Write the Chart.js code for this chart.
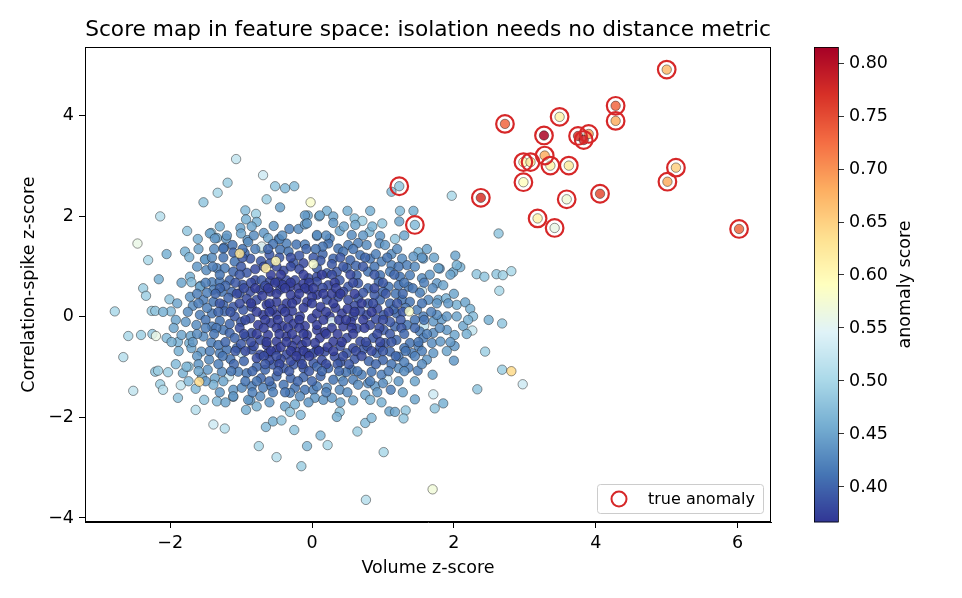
<!DOCTYPE html>
<html>
<head>
<meta charset="utf-8">
<script src="https://cdn.jsdelivr.net/npm/chart.js@4.4.1/dist/chart.umd.min.js"></script>
<style>
  html, body { margin: 0; padding: 0; background: #fff; }
</style>
</head>
<body>
<canvas id="scoreMap" width="962" height="598"></canvas>
<script>
// x, y, anomaly score for the bulk of (normal) points
const normalPoints = [
  [-1.07,3.14,.52],[-0.69,2.82,.53],[-1.19,2.67,.49],[-1.33,2.47,.50],[-1.53,2.28,.48],[-0.52,2.60,.48],[-0.38,2.56,.47],[-0.25,2.60,.47],
  [-0.64,2.34,.49],[-0.02,2.28,.58],[-0.45,2.18,.45],[-2.14,2.00,.51],[-0.94,2.12,.47],[-0.79,2.05,.49],[-2.46,1.46,.56],[-1.76,1.71,.48],
  [-1.61,1.55,.46],[-2.31,1.13,.50],[-2.05,1.25,.46],[-2.16,0.75,.46],[-2.38,0.57,.49],[-2.34,0.42,.49],[-2.78,0.11,.50],[-2.26,0.12,.49],
  [-2.21,0.12,.48],[-2.01,0.35,.48],[-1.99,0.11,.47],[-1.79,1.30,.46],[-1.73,1.19,.46],[-1.72,0.80,.46],[-1.70,0.69,.47],[-1.57,0.62,.45],
  [-1.50,1.15,.46],[-1.42,1.67,.47],[-1.34,1.57,.45],[-1.24,1.38,.42],[-1.01,1.77,.45],[-0.93,1.94,.46],[-1.00,1.66,.45],[-0.91,1.53,.44],
  [-0.68,1.67,.44],[-0.62,1.57,.45],[-0.71,1.36,.47],[-0.54,1.81,.44],[-0.32,1.75,.42],[-0.19,1.75,.43],[-0.10,1.84,.44],[-0.06,2.02,.45],
  [-0.10,2.02,.44],[0.10,2.00,.45],[-0.47,1.55,.43],[-0.36,1.46,.42],
  [1.12,2.49,.47],[1.97,2.41,.50],[2.63,1.66,.48],[0.50,2.11,.46],[0.82,2.11,.46],[1.24,2.11,.47],[1.43,2.11,.46],[0.60,1.96,.47],
  [0.71,1.91,.49],[0.99,1.86,.48],[1.23,1.90,.45],[0.81,1.69,.47],[1.17,1.55,.48],[0.39,1.71,.45],[0.21,2.11,.46],[0.30,2.00,.45],
  [2.02,1.22,.45],[2.09,0.99,.46],[1.99,0.89,.45],[2.32,0.85,.48],[2.43,0.80,.48],[2.60,0.85,.48],[2.69,0.83,.49],[2.81,0.91,.50],
  [2.64,0.52,.50],[1.50,1.29,.46],[1.57,1.16,.44],[1.80,0.96,.43],[1.55,0.52,.53],[2.04,0.24,.46],[2.16,0.29,.45],[2.23,0.16,.46],
  [2.49,-0.06,.46],[2.68,-0.13,.48],[2.26,-0.27,.52],[2.13,-0.18,.45],[2.27,0.01,.47],[2.01,-0.36,.45],[2.01,-0.58,.44],[2.00,-0.87,.44],
  [2.44,-0.69,.49],[2.68,-1.05,.49],[2.97,-1.34,.53],[2.33,-1.44,.48],[1.85,-1.72,.46],[1.73,-1.82,.48],[1.71,-1.54,.53],
  [1.45,-1.64,.45],[1.70,-1.15,.45],[1.32,-1.86,.48],[1.29,-2.02,.48],[1.09,-1.88,.45],[1.17,-1.89,.45],[1.01,-2.69,.50],[1.70,-3.43,.57],
  [0.76,-3.64,.51],[0.64,-2.28,.49],[0.75,-2.11,.47],[0.84,-2.01,.47],[0.39,-1.89,.48],[0.35,-1.99,.46],[0.12,-2.36,.47],[-0.07,-2.57,.47],
  [0.22,-2.55,.50],[-0.15,-2.97,.49],[0.58,-1.66,.45],[1.06,-1.24,.54],[1.11,-1.45,.42],[0.40,-1.18,.52],[1.58,-0.18,.52],[1.71,-0.09,.44],
  [1.83,-0.05,.44],[1.36,-1.01,.42],[1.49,-1.07,.42],
  [-2.59,-0.38,.50],[-2.41,-0.36,.49],[-2.05,-0.42,.47],[-1.89,-0.50,.46],[-1.73,-0.52,.46],[-2.66,-0.80,.51],
  [-2.21,-1.09,.48],[-2.17,-1.07,.49],[-2.03,-1.10,.49],[-1.82,-1.12,.46],[-1.74,-0.99,.48],[-2.52,-1.47,.52],[-2.14,-1.34,.49],[-2.10,-1.45,.51],
  [-1.85,-1.36,.52],[-1.89,-1.61,.48],[-1.64,-1.43,.47],[-1.52,-1.65,.48],[-1.64,-1.85,.51],[-1.39,-2.14,.53],[-1.23,-2.22,.51],
  [-1.34,-1.68,.47],[-1.47,-1.05,.44],[-1.17,-1.18,.53],[-1.11,-1.59,.44],[-0.93,-1.85,.46],[-0.87,-1.66,.44],[-0.78,-1.78,.46],[-0.65,-2.19,.47],
  [-0.55,-2.08,.46],[-0.43,-2.06,.48],[-0.75,-2.57,.50],[-0.50,-2.79,.51],[-0.25,-2.25,.48],[-0.38,-1.78,.45],[-0.31,-1.89,.48],[-0.16,-1.95,.47],
  [-0.24,-1.74,.46],
  [0.11,2.02,.45],[-0.78,1.89,.46],[-0.07,1.86,.44],[-1.44,1.66,.45],[-1.37,1.56,.44],[-1.21,1.56,.44],[-0.90,1.49,.43],[-0.46,1.54,.42],
  [-0.22,1.44,.41],[-0.10,1.44,.42],[0.07,1.61,.43],[-1.25,1.36,.41],[-1.12,1.43,.41],[-1.11,1.28,.40],[-1.09,1.10,.41],[-0.71,1.40,.55],
  [-0.45,1.34,.41],[-0.33,1.30,.41],[-0.87,1.16,.39],[-0.72,1.11,.39],[-0.59,1.07,.39],[-0.26,1.07,.39],[-0.12,1.07,.38],[-1.51,1.14,.44],
  [-1.41,1.18,.43],[-1.49,0.93,.43],[-1.34,0.97,.42],[-1.23,0.97,.42],[-1.11,0.90,.40],[-1.58,0.60,.45],[-1.41,0.69,.42],[-1.30,0.70,.41],
  [-1.16,0.73,.40],[-0.92,0.88,.39],[-0.80,0.73,.38],[-0.71,0.73,.39],[-0.59,0.71,.38],[-0.48,0.70,.38],[-0.36,0.73,.38],[-0.24,0.73,.38],
  [-0.05,0.77,.38],[0.07,0.80,.38],[-1.39,0.54,.42],[-1.27,0.50,.41],[-1.13,0.50,.40],[-1.02,0.47,.39],[-0.87,0.50,.38],[-0.73,0.54,.38],
  [-0.59,0.50,.37],[-0.45,0.54,.38],[-0.31,0.60,.37],[-0.19,0.57,.37],[-0.05,0.54,.37],[0.07,0.44,.37],[-1.72,0.40,.44],[-1.53,0.34,.42],
  [-1.39,0.30,.41],[-1.25,0.24,.40],[-1.11,0.20,.39],[-0.97,0.14,.39],[-0.78,0.34,.38],[-0.64,0.24,.37],[-0.50,0.30,.37],[-0.36,0.27,.37],
  [-0.22,0.34,.37],[-0.07,0.30,.37],
  [0.30,1.87,.44],[0.61,1.83,.45],[0.96,1.61,.44],[0.07,1.63,.43],[0.25,1.56,.42],[0.56,1.63,.43],[0.23,1.46,.41],[0.37,1.36,.41],
  [0.51,1.43,.42],[0.65,1.47,.42],[0.77,1.43,.43],[0.95,1.46,.43],[1.03,1.43,.44],[0.30,1.16,.40],[0.44,1.30,.41],[0.54,1.13,.40],
  [0.68,1.23,.41],[0.82,1.16,.41],[0.98,1.10,.42],[1.12,1.03,.42],[1.27,1.16,.43],[1.34,1.03,.42],[1.43,1.20,.44],[1.78,0.97,.45],
  [2.04,1.03,.46],[0.07,0.97,.39],[0.21,0.87,.39],[0.35,0.90,.39],[0.49,0.97,.40],[0.63,0.83,.40],[0.79,0.90,.41],[0.96,0.83,.41],
  [1.10,0.90,.42],[1.24,0.80,.41],[1.38,0.83,.42],[1.55,0.77,.43],[1.76,0.67,.44],[1.85,0.63,.45],[1.78,0.34,.45],[1.89,0.37,.46],
  [0.07,0.70,.38],[0.23,0.63,.38],[0.39,0.73,.39],[0.51,0.60,.39],[0.65,0.67,.39],[0.79,0.57,.40],[0.94,0.70,.40],[1.08,0.60,.41],
  [1.22,0.63,.41],[1.36,0.60,.42],[0.21,0.34,.38],[0.37,0.40,.38],[0.51,0.34,.38],[0.65,0.37,.39],[0.79,0.27,.39],[0.96,0.34,.40],
  [1.10,0.27,.40],[1.27,0.34,.41],[1.38,0.30,.41],[1.48,0.14,.42],[1.64,0.34,.43],[1.76,0.27,.44],
  [-1.58,0.04,.42],[-1.41,0.07,.41],[-1.23,0.11,.40],[-1.09,0.01,.39],[-0.87,-0.03,.38],[-0.69,0.04,.37],[-0.50,0.04,.37],[-0.33,-0.03,.37],
  [-0.17,0.01,.37],[0.00,-0.03,.37],[-1.84,-0.36,.45],[-1.71,-0.38,.45],[-1.63,-0.16,.43],[-1.41,-0.19,.42],[-1.53,-0.39,.43],[-1.42,-0.51,.42],
  [-1.25,-0.26,.41],[-1.16,-0.32,.40],[-1.09,-0.42,.40],[-0.94,-0.39,.39],[-0.85,-0.32,.38],[-0.73,-0.46,.38],[-0.62,-0.36,.37],[-0.50,-0.49,.37],
  [-0.36,-0.39,.37],[-0.22,-0.46,.37],[-0.07,-0.36,.37],[0.07,-0.26,.37],[-0.99,-0.72,.53],[-1.56,-0.69,.44],[-1.30,-0.72,.42],[-1.20,-0.65,.41],
  [-1.06,-0.62,.40],[-0.85,-0.65,.39],[-0.73,-0.75,.38],[-0.62,-0.72,.38],[-0.50,-0.65,.37],[-0.36,-0.75,.38],[-0.22,-0.69,.37],[-0.07,-0.72,.38],
  [0.07,-0.65,.38],[-1.77,-0.99,.47],[-1.37,-1.22,.45],[-1.27,-1.09,.43],[-1.04,-1.09,.42],[-0.92,-1.12,.41],[-0.78,-0.99,.40],[-0.66,-1.05,.40],
  [-0.55,-0.95,.39],[-0.40,-1.02,.39],[-0.26,-0.95,.39],[-0.12,-1.02,.39],[0.02,-0.92,.39],[-1.39,-1.35,.46],[-1.25,-1.28,.45],[-1.11,-1.45,.44],
  [-0.99,-1.41,.43],[-0.85,-1.38,.42],[-0.69,-1.41,.42],[-0.57,-1.38,.41],[-0.40,-1.35,.41],[-0.24,-1.41,.41],[-0.10,-1.45,.41],[-1.11,-1.58,.44],
  [-0.90,-1.65,.44],[-0.73,-1.58,.43],[-0.31,-1.51,.42],[-0.17,-1.58,.43],[0.02,-1.45,.42],
  [0.07,0.07,.37],[0.25,0.01,.37],[0.42,0.07,.37],[0.58,0.01,.38],[0.77,0.04,.38],[1.01,0.04,.39],[1.19,0.07,.40],[1.57,0.01,.42],
  [1.76,0.04,.43],[1.90,0.01,.44],[2.04,0.01,.45],[0.07,-0.16,.37],[0.28,-0.09,.54],[0.44,-0.19,.37],[0.63,-0.23,.38],[0.82,-0.16,.38],
  [1.01,-0.26,.39],[1.17,-0.19,.40],[1.34,-0.16,.41],[1.52,-0.29,.42],[1.71,-0.32,.43],[1.90,-0.26,.44],[0.11,-0.42,.37],[0.30,-0.49,.37],
  [0.49,-0.42,.38],[0.68,-0.49,.38],[0.86,-0.42,.39],[1.03,-0.52,.39],[1.19,-0.46,.40],[1.38,-0.52,.41],[1.57,-0.42,.42],[1.69,-0.52,.43],
  [1.81,-0.49,.44],[0.02,-0.72,.38],[0.18,-0.69,.38],[0.32,-0.79,.38],[0.49,-0.72,.39],[0.72,-0.65,.39],[0.91,-0.72,.40],[1.10,-0.69,.40],
  [1.22,-0.79,.41],[1.41,-0.72,.42],[1.62,-0.85,.44],[1.71,-0.72,.44],[0.07,-0.99,.40],[0.23,-1.02,.40],[0.56,-1.05,.41],[0.70,-1.15,.42],
  [0.84,-1.09,.41],[0.98,-1.15,.42],[1.22,-1.02,.43],[0.07,-1.38,.42],[0.21,-1.41,.43],[0.39,-1.45,.43],[0.58,-1.25,.42],[0.65,-1.35,.43],
  [0.79,-1.32,.43],[0.89,-1.38,.44],[0.04,-1.61,.44],[0.16,-1.65,.44],[0.28,-1.61,.44],[0.75,-1.55,.45],[0.82,-1.65,.46],
  [-0.95,1.27,.40],[-0.60,1.24,.39],[-0.18,1.22,.39],[0.15,1.25,.40],[0.62,1.02,.40],[-1.00,1.00,.39],[-0.80,0.95,.38],[-0.40,0.92,.38],
  [-0.18,0.95,.38],[0.12,1.12,.39],[0.28,1.05,.39],[0.88,1.00,.41],[-1.22,0.62,.40],[-0.98,0.64,.39],[-0.66,0.62,.38],[-0.42,0.64,.37],
  [-0.12,0.66,.37],[0.15,0.58,.38],[0.44,0.50,.38],[0.72,0.48,.39],[1.00,0.50,.40],[1.18,0.46,.41],[1.52,0.48,.42],[-1.48,0.48,.42],
  [-1.18,0.38,.40],[-0.92,0.36,.38],[-0.70,0.42,.37],[-0.30,0.44,.37],[0.00,0.40,.37],[0.28,0.46,.37],[0.60,0.22,.38],[0.88,0.44,.39],
  [1.15,0.15,.40],[1.32,0.18,.41],[-1.68,0.22,.43],[-1.48,0.18,.42],[-0.85,0.20,.38],[-0.56,0.14,.37],[-0.42,0.16,.37],[-0.28,0.12,.37],
  [-0.12,0.18,.37],[0.12,0.20,.37],[0.33,0.18,.37],[0.50,0.16,.37],[0.68,0.12,.38],[0.92,0.16,.38],[-1.78,-0.10,.44],[-1.30,-0.08,.41],
  [-1.16,-0.14,.40],[-1.00,-0.10,.39],[-0.76,-0.16,.37],[-0.58,-0.12,.37],[-0.42,-0.18,.37],[-0.26,-0.14,.37],[-0.10,-0.18,.37],[0.18,-0.30,.37],
  [0.38,-0.06,.37],[0.55,-0.10,.37],[0.90,-0.04,.38],[1.10,-0.10,.39],[1.45,-0.06,.41],[-1.70,-0.62,.45],[-1.32,-0.56,.41],[-1.00,-0.54,.39],
  [-0.82,-0.58,.38],[-0.64,-0.56,.37],[-0.44,-0.60,.37],[-0.28,-0.58,.37],[-0.14,-0.56,.37],[0.04,-0.52,.37],[0.22,-0.60,.37],[0.40,-0.58,.38],
  [0.58,-0.62,.38],[0.78,-0.58,.39],[0.96,-0.60,.39],[1.30,-0.62,.41],[1.50,-0.58,.42],[-1.45,-0.85,.43],[-1.15,-0.84,.41],[-0.96,-0.88,.40],
  [-0.78,-0.82,.38],[-0.60,-0.86,.38],[-0.44,-0.84,.38],[-0.30,-0.88,.38],[-0.16,-0.84,.38],[0.14,-0.86,.38],[0.40,-0.90,.39],[0.60,-0.84,.39],
  [0.80,-0.88,.40],[1.00,-0.86,.40],[1.30,-0.90,.42],[-1.55,-1.20,.45],[-0.72,-1.22,.40],[-0.50,-1.18,.40],[-0.30,-1.22,.40],[-0.12,-1.20,.40],
  [0.12,-1.18,.40],[0.30,-1.25,.41],[0.48,-1.10,.41],[1.00,-1.32,.43],[0.90,1.25,.42],[1.12,1.25,.43],[-0.55,1.45,.41],[-0.80,1.35,.42],
  [0.15,1.40,.41]
];

// extra points read from the densely overlapping core of the cloud
const corePoints = [
  [-1.20,1.62,.44],[-0.82,1.62,.43],[-0.42,1.62,.43],[0.20,1.62,.43],[0.72,1.62,.44],[1.30,1.62,.45],
  [-1.60,1.35,.45],[-1.38,1.35,.43],[-0.98,1.35,.41],[-0.62,1.35,.40],[-0.08,1.35,.40],[0.05,1.35,.41],[0.58,1.35,.41],[1.20,1.35,.43],[1.62,1.35,.45],
  [-1.25,1.18,.41],[-0.98,1.18,.39],[-0.46,1.18,.39],[-0.30,1.18,.38],[0.02,1.18,.39],[0.40,1.18,.39],[0.75,1.18,.40],[1.06,1.18,.41],[1.55,1.18,.44],[1.72,1.18,.45],
  [-1.62,1.00,.44],[-1.40,1.00,.42],[-0.68,1.00,.38],[-0.50,1.00,.38],[-0.30,1.00,.38],[0.44,1.00,.39],[0.72,1.00,.39],[1.22,1.00,.41],[1.45,1.00,.43],
  [-1.30,0.84,.41],[-1.02,0.84,.39],[-0.58,0.84,.37],[-0.44,0.84,.37],[-0.12,0.84,.37],[0.14,0.84,.37],[0.28,0.84,.38],[0.54,0.84,.38],[0.88,0.84,.39],[1.16,0.84,.40],[1.66,0.84,.44],[1.95,0.84,.45],
  [-1.84,0.68,.45],[-1.50,0.68,.42],[-1.08,0.68,.39],[-0.86,0.68,.38],[-0.52,0.68,.37],[-0.30,0.68,.37],[-0.04,0.68,.37],[0.32,0.68,.37],[0.58,0.68,.38],[1.00,0.68,.39],[1.30,0.68,.41],[1.58,0.68,.42],
  [-1.30,0.57,.40],[-0.96,0.57,.38],[-0.80,0.57,.37],[-0.62,0.57,.37],[-0.38,0.57,.37],[-0.10,0.57,.37],[0.02,0.57,.37],[0.34,0.57,.37],[0.88,0.57,.38],[1.42,0.57,.41],[1.70,0.57,.43],
  [-1.62,0.46,.42],[-1.36,0.46,.40],[-1.06,0.46,.38],[-0.50,0.46,.37],[-0.18,0.46,.37],[0.16,0.46,.37],[0.40,0.46,.37],[0.60,0.46,.37],[1.04,0.46,.39],[1.28,0.46,.40],[2.00,0.46,.45],
  [-1.90,0.27,.45],[-1.60,0.27,.42],[-1.30,0.27,.39],[-1.02,0.27,.38],[-0.86,0.27,.37],[-0.60,0.27,.37],[-0.28,0.27,.37],[0.00,0.27,.37],[0.30,0.27,.37],[0.70,0.27,.37],[0.86,0.27,.38],[1.20,0.27,.39],[1.55,0.27,.41],[1.92,0.27,.44],
  [-2.10,0.10,.46],[-1.75,0.10,.43],[-1.32,0.10,.40],[-1.15,0.10,.39],[-0.78,0.10,.37],[-0.60,0.10,.37],[-0.38,0.10,.37],[0.20,0.10,.37],[0.60,0.10,.37],[0.84,0.10,.37],[1.08,0.10,.38],[1.28,0.10,.39],[1.68,0.10,.42],
  [-1.92,-0.06,.45],[-1.50,-0.06,.41],[-0.94,-0.06,.38],[-0.66,-0.06,.37],[-0.48,-0.06,.37],[-0.18,-0.06,.37],[0.16,-0.06,.37],[0.48,-0.06,.37],[0.72,-0.06,.37],[1.00,-0.06,.38],[1.25,-0.06,.39],[1.58,-0.06,.41],[2.20,-0.06,.46],
  [-1.95,-0.22,.45],[-1.50,-0.22,.42],[-1.35,-0.22,.41],[-1.02,-0.22,.38],[-0.68,-0.22,.37],[-0.50,-0.22,.37],[-0.34,-0.22,.37],[-0.18,-0.22,.37],[0.28,-0.22,.37],[0.56,-0.22,.37],[0.74,-0.22,.37],[0.95,-0.22,.38],[1.26,-0.22,.39],[1.45,-0.22,.40],[1.80,-0.22,.43],
  [-2.25,-0.34,.48],[-1.62,-0.34,.43],[-1.38,-0.34,.41],[-0.96,-0.34,.38],[-0.78,-0.34,.37],[-0.46,-0.34,.37],[-0.28,-0.34,.37],[-0.12,-0.34,.37],[0.20,-0.34,.37],[0.36,-0.34,.37],[0.58,-0.34,.37],[0.92,-0.34,.38],[1.10,-0.34,.39],[1.30,-0.34,.40],[1.62,-0.34,.42],[2.18,-0.34,.46],
  [-1.98,-0.50,.46],[-1.68,-0.50,.44],[-1.22,-0.50,.40],[-0.86,-0.50,.38],[-0.64,-0.50,.37],[-0.36,-0.50,.37],[-0.08,-0.50,.37],[0.42,-0.50,.37],[0.76,-0.50,.38],[0.96,-0.50,.38],[1.12,-0.50,.39],[1.50,-0.50,.41],[1.95,-0.50,.44],
  [-1.88,-0.68,.46],[-1.44,-0.68,.42],[-1.08,-0.68,.39],[-0.94,-0.68,.38],[-0.58,-0.68,.37],[-0.30,-0.68,.37],[-0.12,-0.68,.37],[0.10,-0.68,.37],[0.30,-0.68,.37],[0.62,-0.68,.38],[0.84,-0.68,.38],[1.00,-0.68,.39],[1.32,-0.68,.41],[1.55,-0.68,.42],[1.90,-0.68,.45],
  [-1.62,-0.78,.44],[-1.26,-0.78,.41],[-0.68,-0.78,.38],[-0.50,-0.78,.38],[-0.22,-0.78,.37],[-0.04,-0.78,.37],[0.44,-0.78,.38],[0.70,-0.78,.38],[1.18,-0.78,.40],[1.45,-0.78,.42],
  [-1.92,-0.94,.47],[-1.60,-0.94,.44],[-1.32,-0.94,.42],[-1.10,-0.94,.40],[-0.66,-0.94,.39],[-0.46,-0.94,.38],[-0.14,-0.94,.38],[0.20,-0.94,.38],[0.36,-0.94,.39],[0.52,-0.94,.39],[0.90,-0.94,.40],[1.12,-0.94,.41],[1.55,-0.94,.43],
  [-1.60,-1.08,.45],[-1.14,-1.08,.41],[-0.84,-1.08,.40],[-0.48,-1.08,.39],[-0.32,-1.08,.39],[-0.04,-1.08,.39],[0.14,-1.08,.40],[0.38,-1.08,.40],[0.64,-1.08,.41],[1.08,-1.08,.42],[1.30,-1.08,.43],
  [-1.74,-1.28,.47],[-1.50,-1.28,.44],[-0.94,-1.28,.41],[-0.78,-1.28,.41],[-0.60,-1.28,.40],[-0.20,-1.28,.40],[0.00,-1.28,.40],[0.44,-1.28,.42],[0.82,-1.28,.42],[1.22,-1.28,.44],[1.45,-1.28,.45],
  [-1.30,-1.50,.44],[-0.84,-1.50,.42],[-0.55,-1.50,.42],[-0.38,-1.50,.41],[0.20,-1.50,.42],[0.50,-1.50,.43],[0.92,-1.50,.44],[1.28,-1.50,.45],
  [-1.22,-1.70,.45],[-0.60,-1.70,.44],[-0.05,-1.70,.44],[0.40,-1.70,.45],[0.98,-1.70,.46],
  [-1.30,1.80,.46],[-0.85,1.80,.45],[0.45,1.80,.45],[0.85,1.80,.46]
];

// lighter stragglers inside the normal cloud
const strayPoints = [
  [-2.20,-0.38,.56],[-1.59,-1.29,.64],[2.81,-1.08,.64],[-1.02,1.26,.63],[-0.65,0.97,.62],[-0.51,1.11,.60],[0.02,1.05,.58],[1.37,0.11,.58]
];

// x, y, anomaly score for the injected true anomalies
const anomalyPoints = [
  [5.00,4.92,.67],[4.28,4.20,.73],[4.28,3.90,.68],[2.72,3.84,.73],[3.49,3.98,.61],[3.27,3.61,.81],[3.75,3.60,.77],[3.90,3.64,.69],
  [3.83,3.52,.78],[3.28,3.21,.68],[2.98,3.08,.60],[3.08,3.08,.62],[3.36,3.01,.61],[3.62,3.01,.62],[5.13,2.97,.65],[5.01,2.69,.68],
  [2.98,2.68,.59],[2.38,2.37,.77],[3.59,2.34,.57],[4.06,2.45,.75],[3.18,1.96,.61],[3.42,1.77,.56],[6.02,1.75,.73],[1.23,2.60,.48],
  [1.45,1.83,.47]
];

const xTicks = [-2, 0, 2, 4, 6];
const yTicks = [-4, -2, 0, 2, 4];
const cbTicks = [0.40, 0.45, 0.50, 0.55, 0.60, 0.65, 0.70, 0.75, 0.80];
const cbMin = 0.366, cbMax = 0.815;

// RdYlBu_r
const cmapStops = ['#313695','#4575b4','#74add1','#abd9e9','#e0f3f8','#ffffbf','#fee090','#fdae61','#f46d43','#d73027','#a50026'];
const hexToRgb = h => [1, 3, 5].map(i => parseInt(h.slice(i, i + 2), 16));
const cmapRgb = cmapStops.map(hexToRgb);

function scoreColor(s, alpha) {
  let t = (s - cbMin) / (cbMax - cbMin);
  t = Math.max(0, Math.min(1, t));
  const p = t * (cmapRgb.length - 1);
  const i = Math.min(Math.floor(p), cmapRgb.length - 2);
  const f = p - i;
  const c = cmapRgb[i].map((v, k) => Math.round(v + (cmapRgb[i + 1][k] - v) * f));
  return `rgba(${c[0]},${c[1]},${c[2]},${alpha})`;
}

const fmt = v => String(v).replace('-', '\u2212');
const FONT = 'DejaVu Sans';
const TICK_PX = 17.5;
Chart.defaults.font.family = FONT;
Chart.defaults.color = '#000';

const allPoints = normalPoints.concat(corePoints, strayPoints, anomalyPoints)
  .map(p => ({ x: p[0], y: p[1], s: p[2] }));

// frame, title, colorbar and legend
const decorations = {
  id: 'decorations',
  afterDraw(chart) {
    const { ctx, chartArea: a } = chart;
    ctx.save();

    // axes frame
    ctx.strokeStyle = '#000';
    ctx.lineWidth = 1;
    ctx.strokeRect(a.left + 0.5, a.top + 0.5, a.right - a.left - 1, a.bottom - a.top - 1);

    // title
    ctx.fillStyle = '#000';
    ctx.font = `21.7px "${FONT}"`;
    ctx.textAlign = 'center';
    ctx.textBaseline = 'alphabetic';
    ctx.fillText('Score map in feature space: isolation needs no distance metric', (a.left + a.right) / 2, 36);

    // colorbar
    const cbX = a.right + 43, cbW = 24, top = a.top, h = a.bottom - a.top;
    for (let yy = 0; yy < h; yy++) {
      const v = cbMax - (yy + 0.5) / h * (cbMax - cbMin);
      ctx.fillStyle = scoreColor(v, 1);
      ctx.fillRect(cbX, top + yy, cbW, 1.2);
    }
    ctx.strokeStyle = '#000';
    ctx.lineWidth = 0.8;
    ctx.strokeRect(cbX + 0.5, top + 0.5, cbW, h - 0.5);
    ctx.font = `${TICK_PX}px "${FONT}"`;
    ctx.textAlign = 'left';
    ctx.textBaseline = 'middle';
    ctx.fillStyle = '#000';
    cbTicks.forEach(v => {
      const yy = top + (cbMax - v) / (cbMax - cbMin) * h;
      ctx.beginPath();
      ctx.moveTo(cbX + cbW, Math.round(yy) + 0.5);
      ctx.lineTo(cbX + cbW + 6, Math.round(yy) + 0.5);
      ctx.stroke();
      ctx.fillText(v.toFixed(2), cbX + cbW + 11, yy + 1);
    });
    ctx.save();
    ctx.translate(905, (a.top + a.bottom) / 2);
    ctx.rotate(-Math.PI / 2);
    ctx.textAlign = 'center';
    ctx.fillText('anomaly score', 0, 0);
    ctx.restore();

    // legend
    const lx = a.right - 174, ly = a.bottom - 38, lw = 166, lh = 29;
    ctx.fillStyle = 'rgba(255,255,255,0.8)';
    ctx.strokeStyle = '#cccccc';
    ctx.lineWidth = 1;
    ctx.beginPath();
    ctx.roundRect(lx + 0.5, ly + 0.5, lw, lh, 3);
    ctx.fill();
    ctx.stroke();
    ctx.strokeStyle = '#d62728';
    ctx.lineWidth = 2;
    ctx.beginPath();
    ctx.arc(lx + 22, ly + lh / 2 + 0.5, 7.5, 0, Math.PI * 2);
    ctx.stroke();
    ctx.fillStyle = '#000';
    ctx.font = `16px "${FONT}"`;
    ctx.textAlign = 'left';
    ctx.fillText('true anomaly', lx + 51, ly + lh / 2 + 1);

    ctx.restore();
  }
};

new Chart(document.getElementById('scoreMap').getContext('2d'), {
  type: 'scatter',
  data: {
    datasets: [
      {
        label: 'true anomaly',
        data: anomalyPoints.map(p => ({ x: p[0], y: p[1] })),
        pointRadius: 8.8,
        pointBackgroundColor: 'rgba(0,0,0,0)',
        pointBorderColor: '#d62728',
        pointBorderWidth: 2.2,
        order: 0
      },
      {
        label: 'score',
        data: allPoints,
        pointRadius: 4.7,
        pointBackgroundColor: c => scoreColor(c.raw.s, 0.85),
        pointBorderColor: 'rgba(20,20,20,0.75)',
        pointBorderWidth: 0.6,
        order: 1
      }
    ]
  },
  options: {
    responsive: false,
    animation: false,
    devicePixelRatio: 1,
    layout: { padding: { top: 47, right: 191, left: 0, bottom: 0 } },
    plugins: {
      legend: { display: false },
      tooltip: { enabled: false },
      title: { display: false }
    },
    scales: {
      x: {
        type: 'linear',
        min: -3.2,
        max: 6.47,
        afterBuildTicks: s => { s.ticks = xTicks.map(v => ({ value: v })); },
        afterFit: s => { s.height = 76; },
        ticks: { callback: fmt, font: { size: TICK_PX }, color: '#000', padding: 5, maxRotation: 0 },
        grid: { drawOnChartArea: false, color: '#000', tickLength: 6, tickColor: '#000' },
        border: { display: true, color: '#000', width: 1 },
        title: { display: true, text: 'Volume z-score', font: { size: TICK_PX }, color: '#000', padding: { top: 0, bottom: 19 } }
      },
      y: {
        type: 'linear',
        min: -4.08,
        max: 5.37,
        afterBuildTicks: s => { s.ticks = yTicks.map(v => ({ value: v })); },
        afterFit: s => { s.width = 85; },
        ticks: { callback: fmt, font: { size: TICK_PX }, color: '#000', padding: 5 },
        grid: { drawOnChartArea: false, color: '#000', tickLength: 6, tickColor: '#000' },
        border: { display: true, color: '#000', width: 1 },
        title: { display: true, text: 'Correlation-spike z-score', font: { size: TICK_PX }, color: '#000', padding: { top: 19, bottom: 0 } }
      }
    }
  },
  plugins: [decorations]
});
</script>
</body>
</html>
